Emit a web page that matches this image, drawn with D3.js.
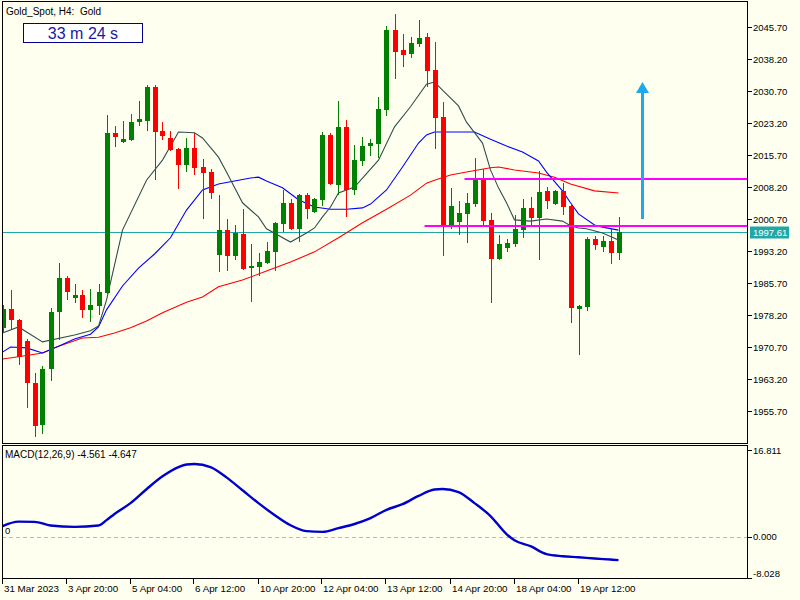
<!DOCTYPE html>
<html>
<head>
<meta charset="utf-8">
<script src="https://cdn.jsdelivr.net/npm/d3@7"></script>
<style>
  html, body { margin: 0; padding: 0; background: #fffff0; }
  svg { display: block; }
  text { font-family: "Liberation Sans", Arial, sans-serif; white-space: pre; }
</style>
</head>
<body>
<div id="chart"></div>
<script>
// H4 candles, Gold_Spot
var open = [1975.2,1979.5,1977.0,1972.1,1962.3,1952.3,1965.6,1979.0,1986.9,1982.3,
  1982.9,1979.4,1980.4,1983.4,2020.9,2018.6,2019.2,2023.3,2023.7,2031.7,
  2021.3,2019.8,2017.1,2013.4,2017.3,2012.9,2011.7,1992.3,1998.1,1991.9,
  1997.2,1989.3,1989.5,1990.4,1993.0,1999.5,2004.5,1998.4,2006.3,2002.4,
  2005.2,2020.4,2008.7,2022.3,2007.5,2014.4,2017.8,2018.3,2026.2,2045.0,
  2040.3,2039.4,2041.8,2043.4,2035.6,2024.6,1999.3,2000.0,2001.9,2004.2,
  2009.8,2000.5,1991.3,1994.0,1994.9,1998.2,2003.3,2001.0,2007.3,2004.2,
  2007.3,2003.8,1979.7,1980.1,1996.0,1994.0,1995.5,1992.6];
var high = [1980.5,1984.1,1977.3,1972.6,1964.5,1966.3,1979.8,1990.4,1987.3,1985.5,
  1984.1,1984.2,1985.5,2025.1,2022.5,2023.7,2025.3,2028.4,2032.1,2032.1,
  2023.4,2021.3,2017.3,2019.8,2020.8,2014.8,2012.4,2006.3,2000.7,1999.3,
  2003.0,1994.8,1992.7,1995.3,2000.0,2007.5,2005.4,2006.6,2006.8,2005.6,
  2021.1,2020.9,2028.4,2023.9,2018.0,2019.9,2019.4,2029.3,2045.9,2048.7,
  2044.1,2043.4,2047.3,2044.3,2042.2,2028.1,2008.0,2004.9,2006.8,2015.0,
  2012.4,2002.1,1997.0,1996.0,2001.6,2005.3,2005.9,2011.9,2008.3,2007.5,
  2009.1,2004.2,1980.6,1996.5,1996.6,1996.7,1998.6,2001.2];
var low = [1974.2,1974.9,1966.5,1956.3,1949.5,1950.3,1962.8,1972.3,1981.6,1981.1,
  1977.6,1976.6,1978.2,1983.2,2017.6,2018.4,2019.0,2022.6,2021.3,2009.8,
  2019.1,2016.7,2007.8,2011.6,2011.1,2000.6,2005.5,1988.3,1988.6,1991.1,
  1988.8,1981.3,1987.4,1990.1,1988.6,1997.7,1998.1,1995.4,2000.8,2002.2,
  2003.7,2008.7,2006.3,2001.2,2006.3,2013.2,2015.5,2015.1,2024.8,2033.5,
  2036.4,2038.5,2040.9,2031.7,2017.2,1992.1,1998.4,1997.0,1995.1,2003.6,
  1998.9,1980.9,1991.1,1993.0,1994.2,1996.3,1998.9,1991.1,2003.0,2004.0,
  2001.6,1976.3,1968.8,1979.2,1993.4,1993.0,1990.2,1991.2];
var close = [1979.6,1977.0,1968.3,1962.2,1952.3,1965.5,1978.9,1986.9,1983.7,1982.9,
  1979.4,1980.5,1983.6,2020.9,2020.0,2019.4,2023.4,2024.1,2031.7,2021.2,
  2020.2,2016.9,2013.4,2017.3,2012.7,2011.6,2006.7,1998.1,1992.1,1997.4,
  1989.0,1989.7,1990.6,1993.2,1999.8,2004.5,1998.4,2006.3,2003.1,2005.4,
  2020.4,2008.9,2022.3,2007.5,2014.5,2017.8,2018.5,2026.5,2045.0,2039.8,
  2039.2,2042.0,2043.1,2035.4,2024.4,1999.3,2003.7,2002.1,2004.5,2009.8,
  2000.2,1991.3,1994.8,1995.1,1998.4,2003.3,2001.0,2007.0,2004.9,2007.3,
  2003.6,1979.9,1980.4,1996.0,1994.7,1995.5,1992.6,1997.61];

// moving averages, [bar, value] read at sample bars
var maFast = [[0,1974.0],[2,1975.4],[5,1971.9],[9,1973.5],[11,1974.5],[12,1975.6],
  [13,1981.7],[15,1998.1],[18,2009.8],[20,2014.5],[22,2021.1],[24,2020.9],[25,2019.7],
  [27,2015.2],[28,2011.7],[30,2004.5],[32,2001.2],[33,1998.4],[36,1995.3],[38,1997.4],
  [39,1998.6],[40,2001.2],[41,2003.5],[42,2006.8],[44,2008.2],[45,2010.3],[47,2014.5],
  [49,2022.3],[51,2027.0],[53,2032.3],[54,2032.8],[55,2030.9],[57,2027.2],[58,2023.4],
  [60,2018.5],[61,2012.2],[62,2008.0],[63,2004.5],[64,2000.5],[66,2000.2],[68,2000.7],
  [70,2000.2],[71,1999.1],[72,1998.6],[73,1998.4],[75,1997.4],[77,1995.8]];
var maMid = [[0,1969.5],[1,1970.7],[3,1970.5],[5,1969.3],[7,1970.9],[9,1972.6],
  [11,1973.7],[12,1975.4],[13,1979.4],[15,1985.0],[17,1989.2],[19,1992.5],[21,1996.3],
  [23,2002.8],[25,2007.5],[27,2008.9],[29,2009.6],[31,2010.3],[32,2010.5],[33,2009.6],
  [35,2008.0],[37,2005.2],[39,2003.5],[41,2003.0],[43,2003.0],[45,2003.3],[46,2004.2],
  [48,2007.5],[50,2012.9],[52,2018.5],[53,2020.4],[54,2021.1],[57,2021.1],[59,2021.1],
  [61,2019.4],[63,2017.8],[65,2016.4],[67,2014.3],[68,2011.7],[70,2007.3],[71,2004.5],
  [72,2001.9],[74,1999.3],[75,1998.8],[77,1998.1]];
var maSlow = [[0,1967.9],[2,1968.4],[5,1969.3],[7,1970.9],[10,1972.8],[12,1973.0],
  [14,1974.0],[16,1975.2],[18,1976.8],[20,1978.7],[23,1981.2],[25,1982.4],[27,1984.8],
  [30,1986.4],[33,1988.5],[36,1990.6],[39,1993.0],[42,1996.3],[45,1999.8],[48,2003.0],
  [51,2006.3],[53,2009.1],[54,2009.8],[56,2011.0],[58,2011.7],[61,2012.7],[62,2012.9],
  [64,2012.2],[67,2011.5],[69,2010.5],[71,2008.9],[74,2007.3],[77,2006.8]];

// MACD main line, [bar, value]
var macd = [[0,2.04],[2,2.91],[4,2.87],[6,2.17],[9,1.90],[12,2.17],[13,3.2],[14,4.4],
  [16,6.5],[18,9.2],[20,11.7],[22,13.5],[23,14.0],[24,14.1],[26,13.5],[28,11.5],
  [30,9.0],[32,6.5],[34,4.2],[36,2.2],[38,1.07],[40,0.93],[42,1.65],[44,2.45],
  [46,3.6],[48,5.2],[50,6.3],[52,7.9],[54,9.15],[55,9.24],[57,8.66],[59,6.5],
  [61,4.0],[63,0.5],[64,-0.7],[66,-1.85],[68,-3.4],[70,-3.8],[72,-4.0],[74,-4.25],
  [76,-4.45],[77,-4.56]];

var priceTicks = [2045.70,2038.20,2030.70,2023.20,2015.70,2008.20,2000.70,
  1993.20,1985.70,1978.20,1970.70,1963.20,1955.70];
var macdTicks = [16.811, 0.000, -8.028];
var timeLabels = ["31 Mar 2023","3 Apr 20:00","5 Apr 04:00","6 Apr 12:00","10 Apr 20:00",
  "12 Apr 04:00","13 Apr 12:00","14 Apr 20:00","18 Apr 04:00","19 Apr 12:00"];
var timeBars = [0,8,16,24,32,40,48,56,64,72];

var lastPrice = 1997.61;
var resistance = {bar: 58, price: 2010.1};
var support = {bar: 53, price: 1999.1};
var arrow = {bar: 80, from: 2000.7, to: 2032.8};

var W = 800, H = 600;
var svg = d3.select("#chart").append("svg").attr("width", W).attr("height", H);
svg.append("rect").attr("width", W).attr("height", H).attr("fill", "#fffff0");

var x = d3.scaleLinear().domain([0, 77]).range([2.5, 618.5]);
var y = d3.scaleLinear().domain([1955.7, 2045.7]).range([411, 27]);
var ym = d3.scaleLinear().domain([-8.028, 16.811]).range([578, 450]);

var left = 2, right = 747.5, mainTop = 1.5, mainBot = 443.5, subTop = 445.5, subBot = 578.5;

var defs = svg.append("defs");
defs.append("clipPath").attr("id", "clipMain").append("rect")
  .attr("x", left + 0.5).attr("y", mainTop).attr("width", right - left - 0.5).attr("height", mainBot - mainTop);
defs.append("clipPath").attr("id", "clipSub").append("rect")
  .attr("x", left + 0.5).attr("y", subTop).attr("width", right - left - 0.5).attr("height", subBot - subTop);

var main = svg.append("g").attr("clip-path", "url(#clipMain)");

// last price line
main.append("line")
  .attr("x1", left).attr("x2", right)
  .attr("y1", Math.round(y(lastPrice)) + 0.5).attr("y2", Math.round(y(lastPrice)) + 0.5)
  .attr("stroke", "#20a8a8").attr("stroke-width", 1);

// moving averages
var line = d3.line().x(function(d) { return x(d[0]); }).y(function(d) { return y(d[1]); });
[[maSlow, "#ff0000"], [maMid, "#0000ff"], [maFast, "#2f4f4f"]].forEach(function(s) {
  main.append("path").datum(s[0]).attr("d", line)
    .attr("fill", "none").attr("stroke", s[1]).attr("stroke-width", 1.1);
});

// candles
var idx = d3.range(open.length);
var cg = main.append("g").attr("shape-rendering", "crispEdges");
cg.selectAll("line.wick").data(idx).join("line")
  .attr("class", "wick")
  .attr("x1", function(i) { return Math.round(x(i)) + 0.5; })
  .attr("x2", function(i) { return Math.round(x(i)) + 0.5; })
  .attr("y1", function(i) { return Math.round(y(high[i])); })
  .attr("y2", function(i) { return Math.round(y(low[i])); })
  .attr("stroke", function(i) { return close[i] >= open[i] ? "#008000" : "#ff0000"; });
cg.selectAll("rect.body").data(idx).join("rect")
  .attr("class", "body")
  .attr("x", function(i) { return Math.round(x(i)) - 2; })
  .attr("width", 5)
  .attr("y", function(i) { return Math.round(y(Math.max(open[i], close[i]))); })
  .attr("height", function(i) { return Math.max(1, Math.round(Math.abs(y(open[i]) - y(close[i])))); })
  .attr("fill", function(i) { return close[i] >= open[i] ? "#008000" : "#ff0000"; });

// support / resistance
[resistance, support].forEach(function(l) {
  main.append("line")
    .attr("x1", x(l.bar) - 2).attr("x2", right)
    .attr("y1", Math.round(y(l.price))).attr("y2", Math.round(y(l.price)))
    .attr("stroke", "#ff00ff").attr("stroke-width", 2);
});

// up arrow
var ax = Math.round(x(arrow.bar)) + 0.5;
main.append("line")
  .attr("x1", ax).attr("x2", ax)
  .attr("y1", y(arrow.from)).attr("y2", y(arrow.to) + 10)
  .attr("stroke", "#1eaaea").attr("stroke-width", 3);
main.append("path")
  .attr("d", "M" + (ax - 6.5) + "," + (y(arrow.to) + 11) + "L" + ax + "," + y(arrow.to) + "L" + (ax + 6.5) + "," + (y(arrow.to) + 11) + "Z")
  .attr("fill", "#1eaaea");

// price axis
var pa = svg.append("g").attr("shape-rendering", "crispEdges");
pa.selectAll("line").data(priceTicks).join("line")
  .attr("x1", right).attr("x2", right + 4)
  .attr("y1", function(d) { return Math.round(y(d)) + 0.5; })
  .attr("y2", function(d) { return Math.round(y(d)) + 0.5; })
  .attr("stroke", "#000");
svg.selectAll("text.pt").data(priceTicks).join("text")
  .attr("class", "pt")
  .attr("x", 753).attr("y", function(d) { return y(d) + 3.5; })
  .attr("font-size", 9.5).attr("fill", "#000")
  .text(function(d) { return d.toFixed(2); });

// last price tag
svg.append("rect").attr("x", 750).attr("y", Math.round(y(lastPrice)) - 5.5)
  .attr("width", 39).attr("height", 12).attr("fill", "#20a8a8");
svg.append("text").attr("x", 753).attr("y", y(lastPrice) + 4)
  .attr("font-size", 9.5).attr("fill", "#fff").text(lastPrice.toFixed(2));

// MACD panel
var sub = svg.append("g").attr("clip-path", "url(#clipSub)");
sub.append("line").attr("x1", left).attr("x2", right)
  .attr("y1", Math.round(ym(0)) + 0.5).attr("y2", Math.round(ym(0)) + 0.5)
  .attr("stroke", "#b8b8c8").attr("stroke-dasharray", "4,3");
var mline = d3.line().curve(d3.curveMonotoneX)
  .x(function(d) { return x(d[0]); }).y(function(d) { return ym(d[1]); });
sub.append("path").datum(macd).attr("d", mline)
  .attr("fill", "none").attr("stroke", "#0000cd").attr("stroke-width", 2.4);

svg.selectAll("line.mt").data(macdTicks).join("line")
  .attr("class", "mt")
  .attr("x1", right).attr("x2", right + 4)
  .attr("y1", function(d) { return Math.round(ym(d)) + 0.5; })
  .attr("y2", function(d) { return Math.round(ym(d)) + 0.5; })
  .attr("stroke", "#000").attr("shape-rendering", "crispEdges");
svg.selectAll("text.mtt").data(macdTicks).join("text")
  .attr("class", "mtt")
  .attr("x", 753)
  .attr("y", function(d, i) { return i === 2 ? ym(d) - 1 : ym(d) + 3.5; })
  .attr("font-size", 9.5).attr("fill", "#000")
  .text(function(d) { return d.toFixed(3); });
svg.append("text").attr("x", 5).attr("y", 534).attr("font-size", 9.5).text("0");
svg.append("text").attr("x", 5).attr("y", 458).attr("font-size", 10)
  .text("MACD(12,26,9) -4.561 -4.647");

// frames
var fr = svg.append("g").attr("fill", "none").attr("stroke", "#000").attr("shape-rendering", "crispEdges");
fr.append("rect").attr("x", left + 0.5).attr("y", mainTop).attr("width", right - left - 0.5).attr("height", mainBot - mainTop);
fr.append("rect").attr("x", left + 0.5).attr("y", subTop).attr("width", right - left - 0.5).attr("height", subBot - subTop);

// time axis
svg.selectAll("line.tt").data(timeBars).join("line")
  .attr("class", "tt")
  .attr("x1", function(d) { return Math.round(x(d)) - 0.5; })
  .attr("x2", function(d) { return Math.round(x(d)) - 0.5; })
  .attr("y1", subBot).attr("y2", subBot + 5)
  .attr("stroke", "#000").attr("shape-rendering", "crispEdges");
svg.selectAll("text.tl").data(timeLabels).join("text")
  .attr("class", "tl")
  .attr("x", function(d, i) { return Math.round(x(timeBars[i])) + 1; })
  .attr("y", 592).attr("font-size", 9.8).attr("fill", "#000")
  .text(function(d) { return d; });

// title and timer
svg.append("text").attr("x", 6).attr("y", 15).attr("font-size", 10).text("Gold_Spot, H4:  Gold");
svg.append("rect").attr("x", 23.5).attr("y", 23.5).attr("width", 119).attr("height", 19)
  .attr("fill", "#fff").attr("stroke", "#00008b");
svg.append("text").attr("x", 83).attr("y", 39).attr("text-anchor", "middle")
  .attr("font-size", 16).attr("fill", "#1a1aa0").text("33 m 24 s");
</script>
</body>
</html>
